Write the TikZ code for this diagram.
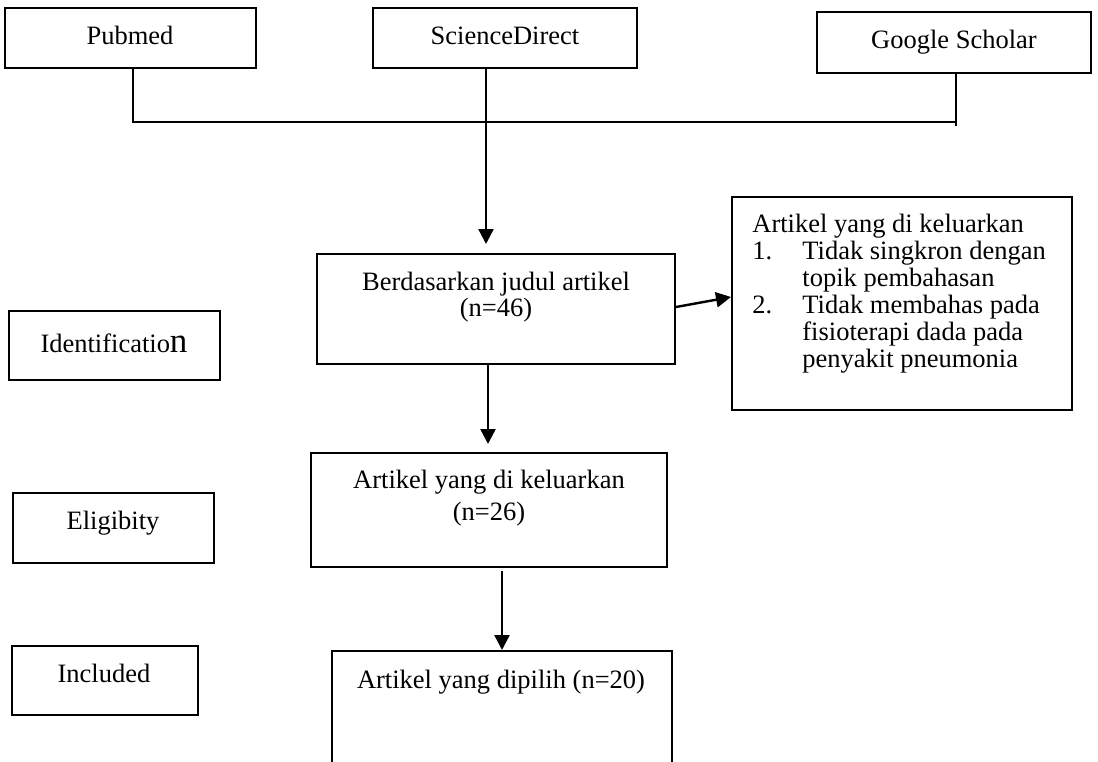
\documentclass[tikz,border=0pt]{standalone}
\usepackage{fontspec}
\setmainfont{Liberation Serif}
\usetikzlibrary{arrows.meta,fit}
\begin{document}
\begin{tikzpicture}[x=0.5pt,y=-0.5pt,
  box/.style={draw, line width=1pt, inner sep=0pt, rectangle},
  txt/.style={inner sep=0pt, font=\fontsize{13.25}{13.5}\selectfont},
  thinline/.style={line width=0.55pt},
  arr/.style={line width=1.2pt, -{Triangle[length=7.5pt,width=7.5pt]}}]
\useasboundingbox (0,0) rectangle (1098,761);
\clip (0,0) rectangle (1098,761);
% boxes
\node[box, fit={(5,8) (256,68)}] (pub) {};
\node[box, fit={(373,8) (637,68)}] (sd) {};
\node[box, fit={(817,12) (1091,73)}] (gs) {};
\node[box, fit={(317,254) (675,364)}] (bj) {};
\node[box, fit={(732,197) (1072,410)}] (ex) {};
\node[box, fit={(311,453) (667,567)}] (k26) {};
\node[box, fit={(332,651) (672,800)}] (p20) {};
\node[box, fit={(9,311) (220,380)}] (idn) {};
\node[box, fit={(13,493) (214,563)}] (elg) {};
\node[box, fit={(12,646) (198,715)}] (inc) {};
% texts
\node[txt, anchor=base] (tpub) at (130,44) {Pubmed};
\node[txt, anchor=base] (tsd) at (505,44) {ScienceDirect};
\node[txt, anchor=base] (tgs) at (954,48) {Google Scholar};
\node[txt, anchor=base] (tidn) at (114,352) {Identificatio{\fontsize{17.5}{17.5}\selectfont n}};
\node[txt, anchor=base] (telg) at (113,529) {Eligibity};
\node[txt, anchor=base] (tinc) at (104,682) {Included};
\node[txt, anchor=base] (tbj1) at (496,290) {Berdasarkan judul artikel};
\node[txt, anchor=base] (tbj2) at (496,316) {(n=46)};
\node[txt, anchor=base] (tk1) at (489,488) {Artikel yang di keluarkan};
\node[txt, anchor=base] (tk2) at (489,520) {(n=26)};
\node[txt, anchor=base] (tp20) at (501,688) {Artikel yang dipilih (n=20)};
\node[txt, anchor=base west] (te0) at (752,232) {Artikel yang di keluarkan};
\node[txt, anchor=base west] (tn1) at (752,259) {1.};
\node[txt, anchor=base west] (te1) at (802,259) {Tidak singkron dengan};
\node[txt, anchor=base west] (te2) at (802,286) {topik pembahasan};
\node[txt, anchor=base west] (tn2) at (752,313) {2.};
\node[txt, anchor=base west] (te3) at (802,313) {Tidak membahas pada};
\node[txt, anchor=base west] (te4) at (802,340) {fisioterapi dada pada};
\node[txt, anchor=base west] (te5) at (802,367) {penyakit pneumonia};
% connectors
\coordinate (j1) at (133,122);
\coordinate (j2) at (486,122);
\coordinate (j3) at (956,122);
\coordinate (j3e) at (956,126);
\draw[thinline] (j1 |- pub.south) -- (j1) -- (j3);
\draw[thinline] (j2 |- sd.south) -- (j2);
\draw[thinline] (j3 |- gs.south) -- (j3e);
\draw[arr, shorten >=4.5pt] (j2) -- (j2 |- bj.north);
\draw[arr] ([yshift=1pt]bj.east) -- ([yshift=3.25pt]ex.west);
\draw[arr, shorten >=4pt] ([xshift=-4pt]bj.south) -- ([xshift=-4pt]bj.south |- k26.north);
\draw[arr] ([xshift=6.5pt,yshift=-1.5pt]k26.south) -- (p20.north);
\end{tikzpicture}
\end{document}
